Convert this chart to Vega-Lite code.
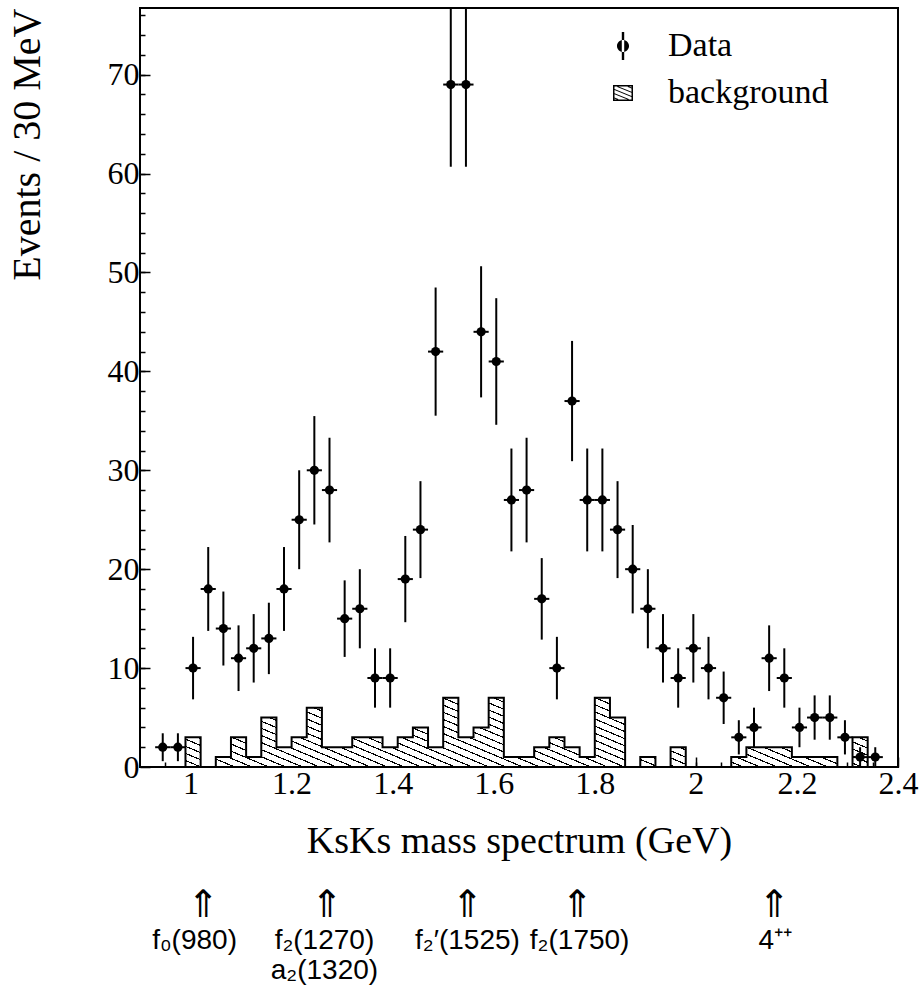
{
  "$schema": "https://vega.github.io/schema/vega-lite/v6.json",
  "background": "white",
  "padding": {"left": 6, "top": 6, "right": 0, "bottom": 0},
  "bounds": "flush",
  "spacing": 142,
  "config": {
    "view": {"stroke": "black", "strokeWidth": 2},
    "axis": {"domain": false, "grid": false, "tickColor": "black", "tickWidth": 1.5, "labelColor": "black", "titleColor": "black", "labelFont": "Liberation Serif", "titleFont": "Liberation Serif", "titleFontWeight": "normal", "labelFlush": false, "labelOverlap": false}
  },
  "datasets": {
    "pts": [
      {"m": 0.945, "n": 2, "lo": 0.59, "hi": 3.41, "a": 0.93, "b": 0.96},
      {"m": 0.975, "n": 2, "lo": 0.59, "hi": 3.41, "a": 0.96, "b": 0.99},
      {"m": 1.005, "n": 10, "lo": 6.84, "hi": 13.16, "a": 0.99, "b": 1.02},
      {"m": 1.035, "n": 18, "lo": 13.76, "hi": 22.24, "a": 1.02, "b": 1.05},
      {"m": 1.065, "n": 14, "lo": 10.26, "hi": 17.74, "a": 1.05, "b": 1.08},
      {"m": 1.095, "n": 11, "lo": 7.68, "hi": 14.32, "a": 1.08, "b": 1.11},
      {"m": 1.125, "n": 12, "lo": 8.54, "hi": 15.46, "a": 1.11, "b": 1.14},
      {"m": 1.155, "n": 13, "lo": 9.39, "hi": 16.61, "a": 1.14, "b": 1.17},
      {"m": 1.185, "n": 18, "lo": 13.76, "hi": 22.24, "a": 1.17, "b": 1.2},
      {"m": 1.215, "n": 25, "lo": 20, "hi": 30, "a": 1.2, "b": 1.23},
      {"m": 1.245, "n": 30, "lo": 24.52, "hi": 35.48, "a": 1.23, "b": 1.26},
      {"m": 1.275, "n": 28, "lo": 22.71, "hi": 33.29, "a": 1.26, "b": 1.29},
      {"m": 1.305, "n": 15, "lo": 11.13, "hi": 18.87, "a": 1.29, "b": 1.32},
      {"m": 1.335, "n": 16, "lo": 12, "hi": 20, "a": 1.32, "b": 1.35},
      {"m": 1.365, "n": 9, "lo": 6, "hi": 12, "a": 1.35, "b": 1.38},
      {"m": 1.395, "n": 9, "lo": 6, "hi": 12, "a": 1.38, "b": 1.41},
      {"m": 1.425, "n": 19, "lo": 14.64, "hi": 23.36, "a": 1.41, "b": 1.44},
      {"m": 1.455, "n": 24, "lo": 19.1, "hi": 28.9, "a": 1.44, "b": 1.47},
      {"m": 1.485, "n": 42, "lo": 35.52, "hi": 48.48, "a": 1.47, "b": 1.5},
      {"m": 1.515, "n": 69, "lo": 60.69, "hi": 77.31, "a": 1.5, "b": 1.53},
      {"m": 1.545, "n": 69, "lo": 60.69, "hi": 77.31, "a": 1.53, "b": 1.56},
      {"m": 1.575, "n": 44, "lo": 37.37, "hi": 50.63, "a": 1.56, "b": 1.59},
      {"m": 1.605, "n": 41, "lo": 34.6, "hi": 47.4, "a": 1.59, "b": 1.62},
      {"m": 1.635, "n": 27, "lo": 21.8, "hi": 32.2, "a": 1.62, "b": 1.65},
      {"m": 1.665, "n": 28, "lo": 22.71, "hi": 33.29, "a": 1.65, "b": 1.68},
      {"m": 1.695, "n": 17, "lo": 12.88, "hi": 21.12, "a": 1.68, "b": 1.71},
      {"m": 1.725, "n": 10, "lo": 6.84, "hi": 13.16, "a": 1.71, "b": 1.74},
      {"m": 1.755, "n": 37, "lo": 30.92, "hi": 43.08, "a": 1.74, "b": 1.77},
      {"m": 1.785, "n": 27, "lo": 21.8, "hi": 32.2, "a": 1.77, "b": 1.8},
      {"m": 1.815, "n": 27, "lo": 21.8, "hi": 32.2, "a": 1.8, "b": 1.83},
      {"m": 1.845, "n": 24, "lo": 19.1, "hi": 28.9, "a": 1.83, "b": 1.86},
      {"m": 1.875, "n": 20, "lo": 15.53, "hi": 24.47, "a": 1.86, "b": 1.89},
      {"m": 1.905, "n": 16, "lo": 12, "hi": 20, "a": 1.89, "b": 1.92},
      {"m": 1.935, "n": 12, "lo": 8.54, "hi": 15.46, "a": 1.92, "b": 1.95},
      {"m": 1.965, "n": 9, "lo": 6, "hi": 12, "a": 1.95, "b": 1.98},
      {"m": 1.995, "n": 12, "lo": 8.54, "hi": 15.46, "a": 1.98, "b": 2.01},
      {"m": 2.025, "n": 10, "lo": 6.84, "hi": 13.16, "a": 2.01, "b": 2.04},
      {"m": 2.055, "n": 7, "lo": 4.35, "hi": 9.65, "a": 2.04, "b": 2.07},
      {"m": 2.085, "n": 3, "lo": 1.27, "hi": 4.73, "a": 2.07, "b": 2.1},
      {"m": 2.115, "n": 4, "lo": 2, "hi": 6, "a": 2.1, "b": 2.13},
      {"m": 2.145, "n": 11, "lo": 7.68, "hi": 14.32, "a": 2.13, "b": 2.16},
      {"m": 2.175, "n": 9, "lo": 6, "hi": 12, "a": 2.16, "b": 2.19},
      {"m": 2.205, "n": 4, "lo": 2, "hi": 6, "a": 2.19, "b": 2.22},
      {"m": 2.235, "n": 5, "lo": 2.76, "hi": 7.24, "a": 2.22, "b": 2.25},
      {"m": 2.265, "n": 5, "lo": 2.76, "hi": 7.24, "a": 2.25, "b": 2.28},
      {"m": 2.295, "n": 3, "lo": 1.27, "hi": 4.73, "a": 2.28, "b": 2.31},
      {"m": 2.325, "n": 1, "lo": 0, "hi": 2, "a": 2.31, "b": 2.34},
      {"m": 2.355, "n": 1, "lo": 0, "hi": 2, "a": 2.34, "b": 2.37}
    ],
    "bg": [
      {"m": 0.99, "n": 3}, {"m": 1.02, "n": 0}, {"m": 1.05, "n": 1}, {"m": 1.08, "n": 3},
      {"m": 1.11, "n": 1}, {"m": 1.14, "n": 5}, {"m": 1.17, "n": 2}, {"m": 1.2, "n": 3},
      {"m": 1.23, "n": 6}, {"m": 1.26, "n": 2}, {"m": 1.29, "n": 2}, {"m": 1.32, "n": 3},
      {"m": 1.35, "n": 3}, {"m": 1.38, "n": 2}, {"m": 1.41, "n": 3}, {"m": 1.44, "n": 4},
      {"m": 1.47, "n": 2}, {"m": 1.5, "n": 7}, {"m": 1.53, "n": 3}, {"m": 1.56, "n": 4},
      {"m": 1.59, "n": 7}, {"m": 1.62, "n": 1}, {"m": 1.65, "n": 1}, {"m": 1.68, "n": 2},
      {"m": 1.71, "n": 3}, {"m": 1.74, "n": 2}, {"m": 1.77, "n": 1}, {"m": 1.8, "n": 7},
      {"m": 1.83, "n": 5}, {"m": 1.86, "n": 0}, {"m": 1.89, "n": 1}, {"m": 1.92, "n": 0},
      {"m": 1.95, "n": 2}, {"m": 1.98, "n": 0}, {"m": 2.01, "n": 0}, {"m": 2.04, "n": 0},
      {"m": 2.07, "n": 1}, {"m": 2.1, "n": 2}, {"m": 2.13, "n": 2}, {"m": 2.16, "n": 2},
      {"m": 2.19, "n": 1}, {"m": 2.22, "n": 1}, {"m": 2.25, "n": 1}, {"m": 2.28, "n": 0},
      {"m": 2.31, "n": 3}, {"m": 2.34, "n": 0}
    ],
    "arrows": [{"m": 1.025}, {"m": 1.27}, {"m": 1.548}, {"m": 1.765}, {"m": 2.155}],
    "names": [
      {"m": 1.008, "t": ["f₀(980)"]},
      {"m": 1.265, "t": ["f₂(1270)", "a₂(1320)"]},
      {"m": 1.548, "t": ["f₂′(1525)"]},
      {"m": 1.77, "t": ["f₂(1750)"]},
      {"m": 2.157, "t": ["4⁺⁺"]}
    ]
  },
  "vconcat": [
    {
      "width": 758,
      "height": 759,
      "resolve": {"axis": {"x": "independent", "y": "independent"}},
      "layer": [
        {
          "data": {"name": "bg"},
          "mark": {
            "type": "area", "interpolate": "step-after", "stroke": "black", "strokeWidth": 2, "opacity": 1,
            "fill": {"gradient": "linear", "x1": 0, "y1": 1, "x2": 1.1732, "y2": 0.7164, "stops": [
              {"offset":0,"color":"#fff"},{"offset":0.0165,"color":"#fff"},{"offset":0.0165,"color":"#000"},{"offset":0.02,"color":"#000"},
              {"offset":0.02,"color":"#fff"},{"offset":0.0365,"color":"#fff"},{"offset":0.0365,"color":"#000"},{"offset":0.04,"color":"#000"},
              {"offset":0.04,"color":"#fff"},{"offset":0.0565,"color":"#fff"},{"offset":0.0565,"color":"#000"},{"offset":0.06,"color":"#000"},
              {"offset":0.06,"color":"#fff"},{"offset":0.0765,"color":"#fff"},{"offset":0.0765,"color":"#000"},{"offset":0.08,"color":"#000"},
              {"offset":0.08,"color":"#fff"},{"offset":0.0965,"color":"#fff"},{"offset":0.0965,"color":"#000"},{"offset":0.1,"color":"#000"},
              {"offset":0.1,"color":"#fff"},{"offset":0.1165,"color":"#fff"},{"offset":0.1165,"color":"#000"},{"offset":0.12,"color":"#000"},
              {"offset":0.12,"color":"#fff"},{"offset":0.1365,"color":"#fff"},{"offset":0.1365,"color":"#000"},{"offset":0.14,"color":"#000"},
              {"offset":0.14,"color":"#fff"},{"offset":0.1565,"color":"#fff"},{"offset":0.1565,"color":"#000"},{"offset":0.16,"color":"#000"},
              {"offset":0.16,"color":"#fff"},{"offset":0.1765,"color":"#fff"},{"offset":0.1765,"color":"#000"},{"offset":0.18,"color":"#000"},
              {"offset":0.18,"color":"#fff"},{"offset":0.1965,"color":"#fff"},{"offset":0.1965,"color":"#000"},{"offset":0.2,"color":"#000"},
              {"offset":0.2,"color":"#fff"},{"offset":0.2165,"color":"#fff"},{"offset":0.2165,"color":"#000"},{"offset":0.22,"color":"#000"},
              {"offset":0.22,"color":"#fff"},{"offset":0.2365,"color":"#fff"},{"offset":0.2365,"color":"#000"},{"offset":0.24,"color":"#000"},
              {"offset":0.24,"color":"#fff"},{"offset":0.2565,"color":"#fff"},{"offset":0.2565,"color":"#000"},{"offset":0.26,"color":"#000"},
              {"offset":0.26,"color":"#fff"},{"offset":0.2765,"color":"#fff"},{"offset":0.2765,"color":"#000"},{"offset":0.28,"color":"#000"},
              {"offset":0.28,"color":"#fff"},{"offset":0.2965,"color":"#fff"},{"offset":0.2965,"color":"#000"},{"offset":0.3,"color":"#000"},
              {"offset":0.3,"color":"#fff"},{"offset":0.3165,"color":"#fff"},{"offset":0.3165,"color":"#000"},{"offset":0.32,"color":"#000"},
              {"offset":0.32,"color":"#fff"},{"offset":0.3365,"color":"#fff"},{"offset":0.3365,"color":"#000"},{"offset":0.34,"color":"#000"},
              {"offset":0.34,"color":"#fff"},{"offset":0.3565,"color":"#fff"},{"offset":0.3565,"color":"#000"},{"offset":0.36,"color":"#000"},
              {"offset":0.36,"color":"#fff"},{"offset":0.3765,"color":"#fff"},{"offset":0.3765,"color":"#000"},{"offset":0.38,"color":"#000"},
              {"offset":0.38,"color":"#fff"},{"offset":0.3965,"color":"#fff"},{"offset":0.3965,"color":"#000"},{"offset":0.4,"color":"#000"},
              {"offset":0.4,"color":"#fff"},{"offset":0.4165,"color":"#fff"},{"offset":0.4165,"color":"#000"},{"offset":0.42,"color":"#000"},
              {"offset":0.42,"color":"#fff"},{"offset":0.4365,"color":"#fff"},{"offset":0.4365,"color":"#000"},{"offset":0.44,"color":"#000"},
              {"offset":0.44,"color":"#fff"},{"offset":0.4565,"color":"#fff"},{"offset":0.4565,"color":"#000"},{"offset":0.46,"color":"#000"},
              {"offset":0.46,"color":"#fff"},{"offset":0.4765,"color":"#fff"},{"offset":0.4765,"color":"#000"},{"offset":0.48,"color":"#000"},
              {"offset":0.48,"color":"#fff"},{"offset":0.4965,"color":"#fff"},{"offset":0.4965,"color":"#000"},{"offset":0.5,"color":"#000"},
              {"offset":0.5,"color":"#fff"},{"offset":0.5165,"color":"#fff"},{"offset":0.5165,"color":"#000"},{"offset":0.52,"color":"#000"},
              {"offset":0.52,"color":"#fff"},{"offset":0.5365,"color":"#fff"},{"offset":0.5365,"color":"#000"},{"offset":0.54,"color":"#000"},
              {"offset":0.54,"color":"#fff"},{"offset":0.5565,"color":"#fff"},{"offset":0.5565,"color":"#000"},{"offset":0.56,"color":"#000"},
              {"offset":0.56,"color":"#fff"},{"offset":0.5765,"color":"#fff"},{"offset":0.5765,"color":"#000"},{"offset":0.58,"color":"#000"},
              {"offset":0.58,"color":"#fff"},{"offset":0.5965,"color":"#fff"},{"offset":0.5965,"color":"#000"},{"offset":0.6,"color":"#000"},
              {"offset":0.6,"color":"#fff"},{"offset":0.6165,"color":"#fff"},{"offset":0.6165,"color":"#000"},{"offset":0.62,"color":"#000"},
              {"offset":0.62,"color":"#fff"},{"offset":0.6365,"color":"#fff"},{"offset":0.6365,"color":"#000"},{"offset":0.64,"color":"#000"},
              {"offset":0.64,"color":"#fff"},{"offset":0.6565,"color":"#fff"},{"offset":0.6565,"color":"#000"},{"offset":0.66,"color":"#000"},
              {"offset":0.66,"color":"#fff"},{"offset":0.6765,"color":"#fff"},{"offset":0.6765,"color":"#000"},{"offset":0.68,"color":"#000"},
              {"offset":0.68,"color":"#fff"},{"offset":0.6965,"color":"#fff"},{"offset":0.6965,"color":"#000"},{"offset":0.7,"color":"#000"},
              {"offset":0.7,"color":"#fff"},{"offset":0.7165,"color":"#fff"},{"offset":0.7165,"color":"#000"},{"offset":0.72,"color":"#000"},
              {"offset":0.72,"color":"#fff"},{"offset":0.7365,"color":"#fff"},{"offset":0.7365,"color":"#000"},{"offset":0.74,"color":"#000"},
              {"offset":0.74,"color":"#fff"},{"offset":0.7565,"color":"#fff"},{"offset":0.7565,"color":"#000"},{"offset":0.76,"color":"#000"},
              {"offset":0.76,"color":"#fff"},{"offset":0.7765,"color":"#fff"},{"offset":0.7765,"color":"#000"},{"offset":0.78,"color":"#000"},
              {"offset":0.78,"color":"#fff"},{"offset":0.7965,"color":"#fff"},{"offset":0.7965,"color":"#000"},{"offset":0.8,"color":"#000"},
              {"offset":0.8,"color":"#fff"},{"offset":0.8165,"color":"#fff"},{"offset":0.8165,"color":"#000"},{"offset":0.82,"color":"#000"},
              {"offset":0.82,"color":"#fff"},{"offset":0.8365,"color":"#fff"},{"offset":0.8365,"color":"#000"},{"offset":0.84,"color":"#000"},
              {"offset":0.84,"color":"#fff"},{"offset":0.8565,"color":"#fff"},{"offset":0.8565,"color":"#000"},{"offset":0.86,"color":"#000"},
              {"offset":0.86,"color":"#fff"},{"offset":0.8765,"color":"#fff"},{"offset":0.8765,"color":"#000"},{"offset":0.88,"color":"#000"},
              {"offset":0.88,"color":"#fff"},{"offset":0.8965,"color":"#fff"},{"offset":0.8965,"color":"#000"},{"offset":0.9,"color":"#000"},
              {"offset":0.9,"color":"#fff"},{"offset":0.9165,"color":"#fff"},{"offset":0.9165,"color":"#000"},{"offset":0.92,"color":"#000"},
              {"offset":0.92,"color":"#fff"},{"offset":0.9365,"color":"#fff"},{"offset":0.9365,"color":"#000"},{"offset":0.94,"color":"#000"},
              {"offset":0.94,"color":"#fff"},{"offset":0.9565,"color":"#fff"},{"offset":0.9565,"color":"#000"},{"offset":0.96,"color":"#000"},
              {"offset":0.96,"color":"#fff"},{"offset":0.9765,"color":"#fff"},{"offset":0.9765,"color":"#000"},{"offset":0.98,"color":"#000"},
              {"offset":0.98,"color":"#fff"},{"offset":0.9965,"color":"#fff"},{"offset":0.9965,"color":"#000"},{"offset":1,"color":"#000"}
            ]}
          },
          "encoding": {
            "x": {"field": "m", "type": "quantitative", "scale": {"domain": [0.9, 2.4], "nice": false, "zero": false},
              "axis": {"orient": "bottom", "values": [0.95,1,1.05,1.1,1.15,1.2,1.25,1.3,1.35,1.4,1.45,1.5,1.55,1.6,1.65,1.7,1.75,1.8,1.85,1.9,1.95,2,2.05,2.1,2.15,2.2,2.25,2.3,2.35], "tickSize": -5, "labels": false, "title": null}},
            "y": {"field": "n", "type": "quantitative", "scale": {"domain": [0, 76.74], "nice": false},
              "axis": {"orient": "left", "values": [2,4,6,8,10,12,14,16,18,20,22,24,26,28,30,32,34,36,38,40,42,44,46,48,50,52,54,56,58,60,62,64,66,68,70,72,74,76], "tickSize": -5, "labels": false, "title": null}}
          }
        },
        {
          "data": {"name": "pts"},
          "mark": {"type": "rule", "color": "black", "strokeWidth": 2, "clip": true},
          "encoding": {
            "x": {"field": "m", "type": "quantitative", "axis": null},
            "y": {"field": "lo", "type": "quantitative", "axis": null},
            "y2": {"field": "hi"}
          }
        },
        {
          "data": {"name": "pts"},
          "mark": {"type": "rule", "color": "black", "strokeWidth": 2, "clip": true},
          "encoding": {
            "x": {"field": "a", "type": "quantitative", "axis": null},
            "x2": {"field": "b"},
            "y": {"field": "n", "type": "quantitative", "axis": null}
          }
        },
        {
          "data": {"name": "pts"},
          "mark": {"type": "point", "shape": "circle", "filled": true, "color": "black", "opacity": 1, "size": 85, "clip": true},
          "encoding": {
            "x": {"field": "m", "type": "quantitative",
              "axis": {"orient": "bottom", "values": [1,1.2,1.4,1.6,1.8,2,2.2,2.4], "format": "~g", "tickSize": -10, "labelPadding": 11, "labelFontSize": 32, "title": "KsKs mass spectrum (GeV)", "titleFontSize": 38, "titlePadding": 23}},
            "y": {"field": "n", "type": "quantitative",
              "axis": {"orient": "left", "values": [0,10,20,30,40,50,60,70], "tickSize": -10, "labelPadding": 11, "labelFontSize": 32, "title": "Events / 30 MeV", "titleFontSize": 40, "titleAnchor": "end", "titlePadding": 60}}
          }
        },
        {
          "data": {"values": []},
          "mark": {"type": "point", "filled": true, "color": "black", "opacity": 1},
          "encoding": {
            "shape": {"field": "series", "type": "nominal",
              "scale": {"domain": ["Data", "background"], "range": [
                "M-0.086,-1H0.086V1H-0.086ZM-0.43,0A0.43,0.43,0,1,0,0.43,0A0.43,0.43,0,1,0,-0.43,0Z",
                "M-0.714,-0.571H0.714V0.571H-0.714ZM-0.607,-0.464V0.464H0.607V-0.464ZM-0.607,-0.278L0.607,0.208L0.607,0.278L-0.607,-0.208ZM-0.607,0.022L0.41,0.429L0.41,0.499L-0.607,0.092ZM-0.607,0.322L-0.34,0.429L-0.34,0.499L-0.607,0.392ZM-0.41,-0.499L0.607,-0.092L0.607,-0.022L-0.41,-0.429ZM0.34,-0.499L0.607,-0.392L0.607,-0.322L0.34,-0.429Z"
              ]},
              "legend": {"orient": "none", "legendX": 466, "legendY": 21, "title": null, "padding": 0, "labelFont": "Liberation Serif", "labelFontSize": 34, "labelColor": "black", "labelOffset": 28, "rowPadding": 13, "symbolSize": 784, "symbolStrokeWidth": 0, "symbolOpacity": 1, "symbolFillColor": "black", "labelLimit": 0}
            }
          }
        }
      ]
    },
    {
      "width": 758,
      "height": 40,
      "view": {"stroke": null},
      "layer": [
        {
          "data": {"name": "arrows"},
          "mark": {"type": "text", "text": "⇑", "font": "DejaVu Sans", "fontSize": 38, "baseline": "bottom", "dy": -4, "color": "black"},
          "encoding": {
            "x": {"field": "m", "type": "quantitative", "scale": {"domain": [0.9, 2.4], "nice": false, "zero": false}, "axis": null}
          }
        },
        {
          "data": {"name": "names"},
          "mark": {"type": "text", "font": "Liberation Sans", "fontSize": 28, "baseline": "top", "lineHeight": 30, "dy": -2, "color": "black"},
          "encoding": {
            "x": {"field": "m", "type": "quantitative", "axis": null},
            "text": {"field": "t", "type": "nominal"}
          }
        }
      ]
    }
  ]
}
